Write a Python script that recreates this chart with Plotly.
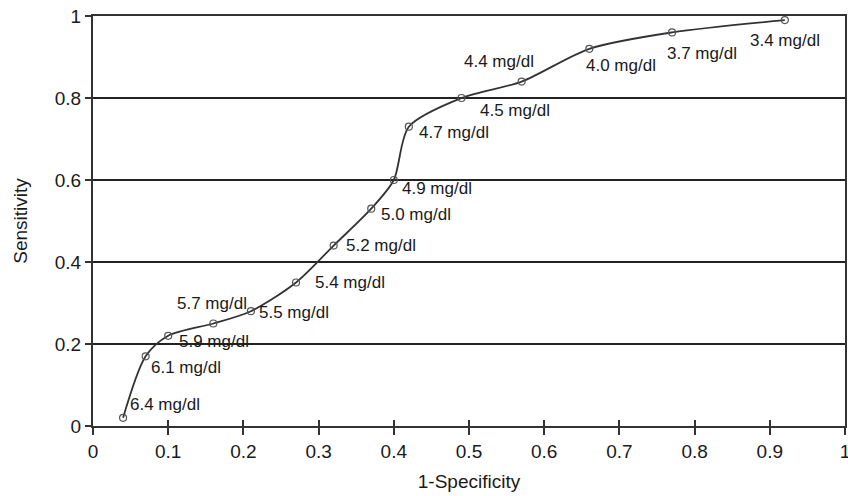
import plotly.graph_objects as go

# Data
cutoff_labels = ["6.4 mg/dl", "6.1 mg/dl", "5.9 mg/dl", "5.7 mg/dl", "5.5 mg/dl",
                 "5.4 mg/dl", "5.2 mg/dl", "5.0 mg/dl", "4.9 mg/dl", "4.7 mg/dl",
                 "4.5 mg/dl", "4.4 mg/dl", "4.0 mg/dl", "3.7 mg/dl", "3.4 mg/dl"]
one_minus_specificity = [0.04, 0.07, 0.10, 0.16, 0.21, 0.27, 0.32, 0.37, 0.40, 0.42,
                         0.49, 0.57, 0.66, 0.77, 0.92]
sensitivity = [0.02, 0.17, 0.22, 0.25, 0.28, 0.35, 0.44, 0.53, 0.60, 0.73,
               0.80, 0.84, 0.92, 0.96, 0.99]
x_ticks = [0, 0.1, 0.2, 0.3, 0.4, 0.5, 0.6, 0.7, 0.8, 0.9, 1]
x_tick_text = ["0", "0.1", "0.2", "0.3", "0.4", "0.5", "0.6", "0.7", "0.8", "0.9", "1"]
y_ticks = [0, 0.2, 0.4, 0.6, 0.8, 1]
y_tick_text = ["0", "0.2", "0.4", "0.6", "0.8", "1"]

# Label placement (pixel offsets of label's left edge / vertical centre from point)
label_offsets = [(5, -13), (3, 11), (9, 6), (-38, -20), (6, 1),
                 (17, 0), (10, 0), (8, 6), (6, 8), (8, 6),
                 (17, 12), (-60, -20), (-5, 17), (-7, 21), (-37, 20)]

FONT = "Liberation Sans, Arial, sans-serif"

fig = go.Figure()
fig.add_trace(go.Scatter(
    x=one_minus_specificity, y=sensitivity, mode="lines+markers",
    line=dict(color="#333333", width=1.8, shape="spline", smoothing=0.8),
    marker=dict(symbol="circle-open", size=7, color="#555555", line=dict(width=1.2)),
    showlegend=False, hoverinfo="skip",
))
# dummy trace for the overlay axis (inside tick marks)
fig.add_trace(go.Scatter(x=[0, 1], y=[0, 0], xaxis="x2", mode="none",
                         showlegend=False, hoverinfo="skip"))

annotations = []
for lab, xv, yv, (dx, dy) in zip(cutoff_labels, one_minus_specificity, sensitivity, label_offsets):
    annotations.append(dict(
        x=xv, y=yv, xref="x", yref="y", text=lab, showarrow=False,
        xanchor="left", yanchor="middle", xshift=dx, yshift=-dy,
        font=dict(family=FONT, size=17, color="#1a1a1a"),
    ))

fig.update_layout(
    width=848, height=496,
    margin=dict(l=93, r=3, t=16, b=70),
    paper_bgcolor="white", plot_bgcolor="white",
    font=dict(family=FONT, color="#1a1a1a"),
    annotations=annotations,
    xaxis=dict(
        range=[0, 1], tickvals=x_ticks, ticktext=x_tick_text,
        ticks="outside", ticklen=7, tickwidth=1.5, tickcolor="#333333",
        showline=True, linecolor="#333333", linewidth=2, mirror=True,
        showgrid=False, zeroline=False, ticklabeloverflow="allow",
        tickfont=dict(size=19, family=FONT, color="#1a1a1a"),
        title=dict(text="1-Specificity", font=dict(size=19, family=FONT, color="#1a1a1a"), standoff=14),
        automargin=False,
    ),
    xaxis2=dict(
        range=[0, 1], overlaying="x", anchor="y", side="bottom",
        tickvals=x_ticks, ticks="inside", ticklen=6, tickwidth=1.5, tickcolor="#333333",
        showticklabels=False, showgrid=False, zeroline=False, showline=False,
    ),
    yaxis=dict(
        range=[0, 1], tickvals=y_ticks, ticktext=y_tick_text,
        ticks="outside", ticklen=6, tickwidth=1.5, tickcolor="#333333",
        showline=True, linecolor="#333333", linewidth=2, mirror=True,
        showgrid=True, gridcolor="#222222", gridwidth=1.5, zeroline=False,
        ticklabeloverflow="allow",
        tickfont=dict(size=19, family=FONT, color="#1a1a1a"),
        title=dict(text="Sensitivity", font=dict(size=19, family=FONT, color="#1a1a1a"), standoff=22),
        automargin=False,
    ),
)

fig.write_html(
    "out.html",
    config={"displayModeBar": False},
    post_script="document.body.style.margin='0';document.body.style.overflow='hidden';",
)
